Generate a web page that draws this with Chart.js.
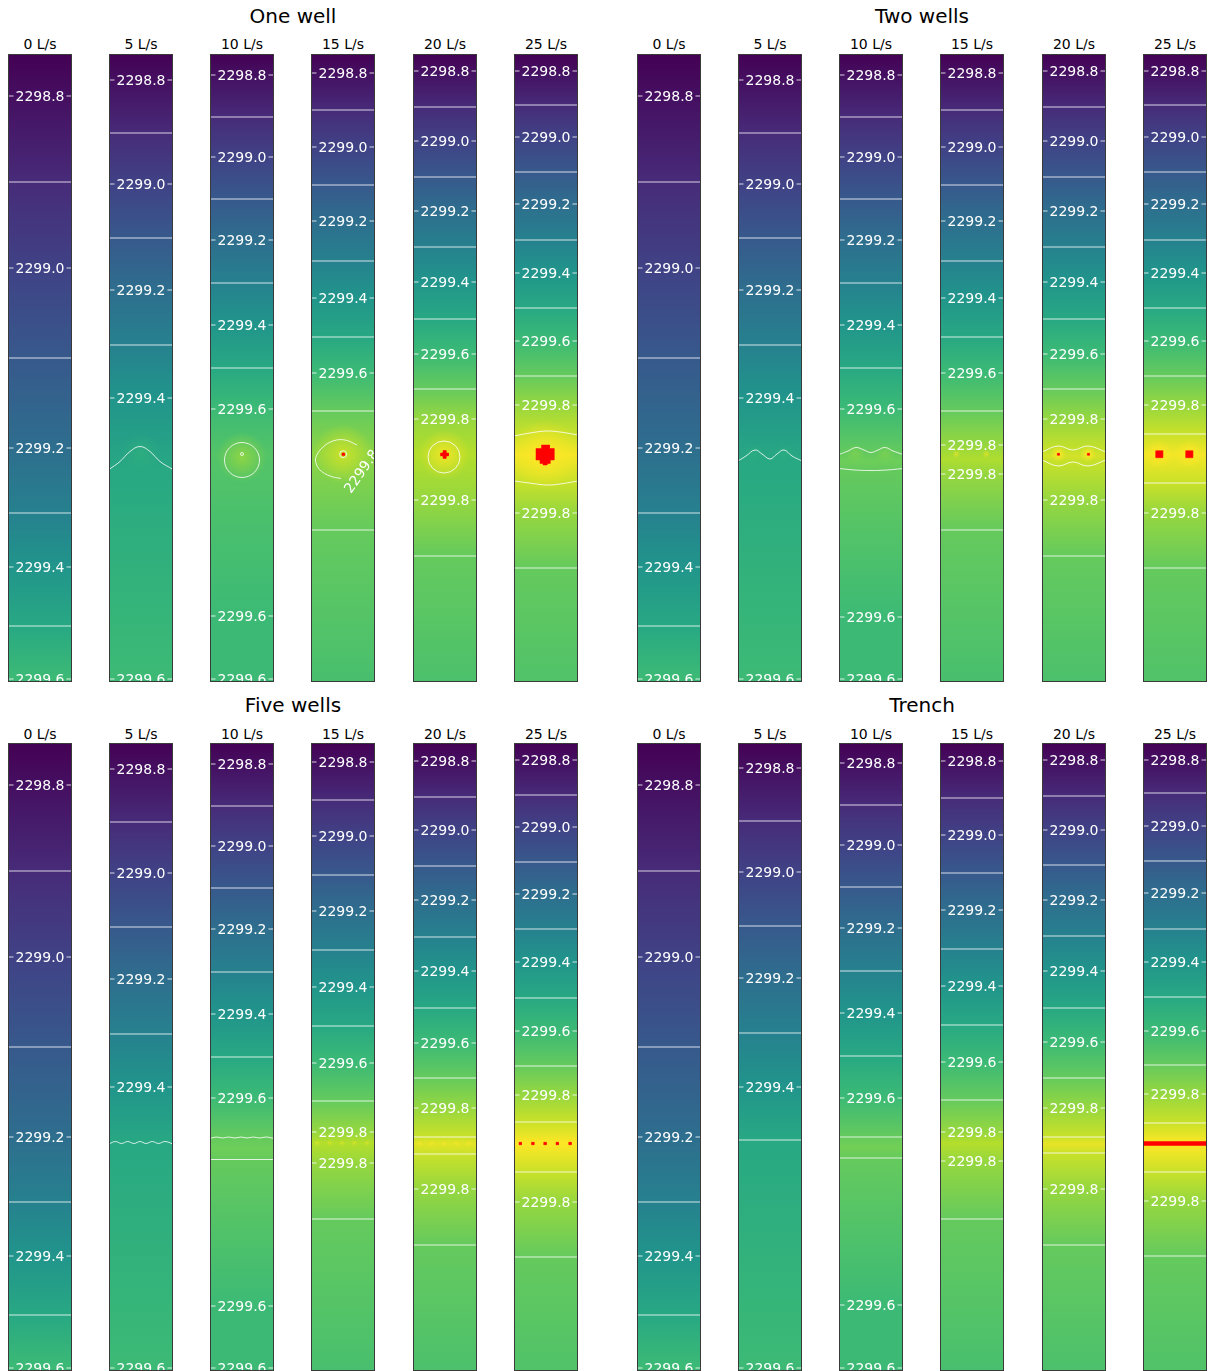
<!DOCTYPE html>
<html>
<head>
<meta charset="utf-8">
<script src="https://cdn.jsdelivr.net/npm/chart.js@4.4.1/dist/chart.umd.min.js"></script>
<style>
  body { margin: 0; background: #fff; font-family: "DejaVu Sans", sans-serif; }
  #fig { position: relative; width: 1208px; height: 1371px; overflow: hidden; }
  .panel { position: absolute; }
  .ttl { position: absolute; width: 100px; font-size: 14px; line-height: 16px; text-align: center; color: #000; white-space: nowrap; }
  .grp { position: absolute; width: 300px; font-size: 20px; line-height: 24px; text-align: center; color: #000; white-space: nowrap; }
</style>
</head>
<body>
<div id="fig"></div>
<script>
// --- data: water table (m) in a 128 m x 1256 m strip, y measured from the upstream edge ---
const groupTitles = ['One well', 'Two wells', 'Five wells', 'Trench'];
const rates = ['0 L/s', '5 L/s', '10 L/s', '15 L/s', '20 L/s', '25 L/s'];
const vMin = 2298.75, vMax = 2300.0;      // colour limits, above vMax = flooded (red)
const topHead = 2298.75;                  // upstream boundary
const bottomHead = [2299.6, 2299.6, 2299.6, 2299.63, 2299.64, 2299.65];

// straight contours [y, head]
const oneWellLines = [
  [[84,2298.8],[256,2298.9],[428,2299.0],[608,2299.1],[788,2299.2],[918,2299.3],[1026,2299.4],[1144,2299.5],[1250,2299.6]],
  [[52,2298.8],[158,2298.9],[260,2299.0],[368,2299.1],[472,2299.2],[582,2299.3],[688,2299.4],[1250,2299.6]],
  [[42,2298.8],[126,2298.9],[206,2299.0],[290,2299.1],[372,2299.2],[458,2299.3],[542,2299.4],[628,2299.5],[710,2299.6],[1124,2299.6],[1250,2299.6]],
  [[38,2298.8],[112,2298.9],[186,2299.0],[262,2299.1],[334,2299.2],[414,2299.3],[488,2299.4],[566,2299.5],[638,2299.6],[714,2299.7],[952,2299.7]],
  [[34,2298.8],[106,2298.9],[174,2299.0],[246,2299.1],[314,2299.2],[386,2299.3],[456,2299.4],[530,2299.5],[600,2299.6],[670,2299.7],[730,2299.8],[892,2299.8],[1004,2299.7]],
  [[34,2298.8],[102,2298.9],[166,2299.0],[236,2299.1],[300,2299.2],[372,2299.3],[438,2299.4],[508,2299.5],[574,2299.6],[644,2299.7],[702,2299.8],[918,2299.8],[1028,2299.7]]
];
const twoWellLines = [
  [[84,2298.8],[256,2298.9],[428,2299.0],[608,2299.1],[788,2299.2],[918,2299.3],[1026,2299.4],[1144,2299.5],[1250,2299.6]],
  [[52,2298.8],[158,2298.9],[260,2299.0],[368,2299.1],[472,2299.2],[582,2299.3],[688,2299.4],[1250,2299.6]],
  [[42,2298.8],[126,2298.9],[206,2299.0],[290,2299.1],[372,2299.2],[458,2299.3],[542,2299.4],[628,2299.5],[710,2299.6],[1126,2299.6],[1250,2299.6]],
  [[38,2298.8],[112,2298.9],[186,2299.0],[262,2299.1],[334,2299.2],[414,2299.3],[488,2299.4],[566,2299.5],[638,2299.6],[714,2299.7],[782,2299.8],[840,2299.8],[952,2299.7]],
  [[34,2298.8],[106,2298.9],[174,2299.0],[246,2299.1],[314,2299.2],[386,2299.3],[456,2299.4],[530,2299.5],[600,2299.6],[670,2299.7],[730,2299.8],[892,2299.8],[1004,2299.7]],
  [[34,2298.8],[102,2298.9],[166,2299.0],[236,2299.1],[300,2299.2],[372,2299.3],[438,2299.4],[508,2299.5],[574,2299.6],[644,2299.7],[702,2299.8],[760,2299.9],[858,2299.9],[918,2299.8],[1028,2299.7]]
];
const fiveWellLines = [
  [[84,2298.8],[256,2298.9],[428,2299.0],[608,2299.1],[788,2299.2],[918,2299.3],[1026,2299.4],[1144,2299.5],[1250,2299.6]],
  [[52,2298.8],[158,2298.9],[260,2299.0],[368,2299.1],[472,2299.2],[582,2299.3],[688,2299.4],[1250,2299.6]],
  [[42,2298.8],[126,2298.9],[206,2299.0],[290,2299.1],[372,2299.2],[458,2299.3],[542,2299.4],[628,2299.5],[710,2299.6],[833,2299.7],[1126,2299.6],[1250,2299.6]],
  [[38,2298.8],[114,2298.9],[186,2299.0],[264,2299.1],[336,2299.2],[414,2299.3],[488,2299.4],[566,2299.5],[640,2299.6],[716,2299.7],[778,2299.8],[840,2299.8],[952,2299.7]],
  [[36,2298.8],[108,2298.9],[174,2299.0],[246,2299.1],[314,2299.2],[388,2299.3],[456,2299.4],[530,2299.5],[600,2299.6],[670,2299.7],[730,2299.8],[788,2299.9],[822,2299.9],[892,2299.8],[1004,2299.7]],
  [[34,2298.8],[104,2298.9],[168,2299.0],[238,2299.1],[302,2299.2],[372,2299.3],[438,2299.4],[510,2299.5],[576,2299.6],[646,2299.7],[704,2299.8],[758,2299.9],[858,2299.9],[918,2299.8],[1028,2299.7]]
];
const trenchLines = [
  [[84,2298.8],[256,2298.9],[428,2299.0],[608,2299.1],[788,2299.2],[918,2299.3],[1026,2299.4],[1144,2299.5],[1250,2299.6]],
  [[50,2298.8],[156,2298.9],[258,2299.0],[366,2299.1],[470,2299.2],[580,2299.3],[688,2299.4],[794,2299.5],[1250,2299.6]],
  [[40,2298.8],[124,2298.9],[204,2299.0],[288,2299.1],[370,2299.2],[456,2299.3],[540,2299.4],[626,2299.5],[710,2299.6],[788,2299.7],[830,2299.7],[1124,2299.6],[1250,2299.6]],
  [[36,2298.8],[110,2298.9],[184,2299.0],[260,2299.1],[334,2299.2],[412,2299.3],[486,2299.4],[564,2299.5],[638,2299.6],[714,2299.7],[778,2299.8],[836,2299.8],[952,2299.7]],
  [[34,2298.8],[106,2298.9],[174,2299.0],[244,2299.1],[314,2299.2],[386,2299.3],[456,2299.4],[530,2299.5],[598,2299.6],[670,2299.7],[730,2299.8],[788,2299.9],[820,2299.9],[892,2299.8],[1004,2299.7]],
  [[34,2298.8],[100,2298.9],[166,2299.0],[236,2299.1],[300,2299.2],[372,2299.3],[438,2299.4],[508,2299.5],[576,2299.6],[644,2299.7],[702,2299.8],[760,2299.9],[858,2299.9],[916,2299.8],[1026,2299.7]]
];

// bent contours near the wells: [head, [[x, y], ...]]
const oneWellCurves = [[], [[2299.5, [[0,831],[22,815],[42,795],[62,785],[82,795],[102,815],[128,831]]]], [],
  [[2299.8, [[92,782],[68,772],[44,774],[22,788],[10,806],[10,818],[18,832],[38,844],[60,849]]]], [],
  [[2299.9, [[0,764],[38,757],[66,754],[92,756],[128,762]]], [2299.9, [[0,854],[38,859],[66,862],[92,860],[128,854]]]]];
const twoWellCurves = [[], [[2299.5, [[0,814],[16,804],[34,792],[48,800],[64,810],[78,800],[92,792],[108,804],[128,814]]]],
  [[2299.7, [[0,801],[18,794],[34,787],[50,792],[64,797],[78,792],[92,787],[108,794],[128,801]]], [2299.7, [[0,829],[32,832],[64,833],[96,832],[128,829]]]],
  [], [[2299.9, [[0,796],[32,784],[62,792],[92,784],[128,796]]], [2299.9, [[0,812],[32,824],[62,816],[92,824],[128,812]]]], []];
const fiveWellCurves = [[], [[2299.5, [[0,802],[12.6,797],[25,801],[37.4,797],[50,801],[62,797],[74,801],[86.6,797],[99,801],[112,797],[128,802]]]],
  [[2299.7, [[0,791],[12.6,788],[25,790],[37.4,788],[50,790],[62,788],[74,790],[86.6,788],[99,790],[112,788],[128,791]]]], [], [], []];
const trenchCurves = [[], [], [], [], [], []];

// small closed contours [x, y, radius]
const oneWellRings = [[], [], [[64,812,35],[64,800,3]], [[64.4,800.4,7]], [[62,806,32]], []];
// rotated contour labels [x, y, angle, head]
const oneWellTilted = [[], [], [], [[100,834,-55,2299.8]], [], []];

// heads on the centre line near the wells [y, head]
const oneWellExtra = [[], [[831,2299.5]], [[800,2299.66]], [[800,2299.78]], [[800,2299.86]], [[764,2299.9],[801,2299.98],[854,2299.9]]];
const twoWellExtra = [[], [[814,2299.5]], [[801,2299.7],[815,2299.72],[829,2299.7]], [[810,2299.85]], [[796,2299.9],[804,2299.92],[812,2299.9]], [[801,2299.98]]];
const fiveWellExtra = [[], [[801,2299.5]], [[790,2299.7],[812,2299.72]], [[800,2299.86]], [[801,2299.95]], [[801,2300.0]]];
const trenchExtra = [[], [], [[809,2299.73]], [[800,2299.86]], [[802,2299.96]], [[801,2300.02]]];

// local mounds around the wells [x, y, head, radius]
const oneWellMounds = [[], [[64,800,2299.53,40]], [[64,806,2299.78,50]], [[64,800,2299.9,60]], [[63,801,2299.97,50]], [[62,801,2300.0,70]]];
const twoWellMounds = [[], [[32.5,800,2299.52,20],[92.5,800,2299.52,20]], [[32.5,800,2299.74,20],[92.5,800,2299.74,20]],
  [[32.5,800,2299.93,8],[92.5,800,2299.93,8]], [[32.5,800,2300,16],[92.5,800,2300,16]], [[32.5,800,2300,28],[92.5,800,2300,28]]];
const fiveWellMounds = [[], [], [],
  [[12.6,800,2299.92,6],[37.4,800,2299.92,6],[62,800,2299.92,6],[86.6,800,2299.92,6],[112,800,2299.92,6]],
  [[12.6,801,2299.98,6],[37.4,801,2299.98,6],[62,801,2299.98,6],[86.6,801,2299.98,6],[112,801,2299.98,6]], []];
const trenchMounds = [[], [], [], [], [], []];

// flooded cells (head above vMax)
const oneWellFlood = [[], [], [], [box(62,798,67,803)],
  [[[60,793],[66,793],[66,798],[71,798],[71,804],[66,804],[66,809],[60,809],[60,804],[55,804],[55,798],[60,798]]],
  [[[55,782],[71,782],[71,789],[80,789],[80,812],[72,812],[72,819],[66,819],[66,822],[58,822],[58,819],[52,819],[52,812],[44,812],[44,789],[55,789]]]];
const twoWellFlood = [[], [], [], [], [box(30.6,798.6,34.6,802.6), box(90.6,798.6,94.6,802.6)],
  [box(25.4,793.4,39.4,807.4), box(85.4,793.4,99.4,807.4)]];
const fiveWellFlood = [[], [], [], [], [],
  [box(10,798.5,15,803.5), box(35,798.5,40,803.5), box(59.5,798.5,64.5,803.5), box(84,798.5,89,803.5), box(109.5,798.5,114.5,803.5)]];
const trenchFlood = [[], [], [], [], [], [box(0,797,128,805)]];

function box(x0, y0, x1, y1) { return [[x0,y0],[x1,y0],[x1,y1],[x0,y1]]; }

// --- layout ---
const xMax = 128, yMax = 1256;
const colLefts = [[8,109,210,311,413,514],[637,738,839,940,1042,1143]];
const rowTops = [54, 743];
const LINE = 'rgba(255,255,255,0.8)';

const groups = [
  { lines: oneWellLines, curves: oneWellCurves, rings: oneWellRings, tilted: oneWellTilted, extra: oneWellExtra, mounds: oneWellMounds, flood: oneWellFlood },
  { lines: twoWellLines, curves: twoWellCurves, rings: [[],[],[],[],[],[]], tilted: [[],[],[],[],[],[]], extra: twoWellExtra, mounds: twoWellMounds, flood: twoWellFlood },
  { lines: fiveWellLines, curves: fiveWellCurves, rings: [[],[],[],[],[],[]], tilted: [[],[],[],[],[],[]], extra: fiveWellExtra, mounds: fiveWellMounds, flood: fiveWellFlood },
  { lines: trenchLines, curves: trenchCurves, rings: [[],[],[],[],[],[]], tilted: [[],[],[],[],[],[]], extra: trenchExtra, mounds: trenchMounds, flood: trenchFlood }
];

const VIRIDIS = ['#440154','#482878','#3e4989','#31688e','#26828e','#1f9e89','#35b779','#6ece58','#b5de2b','#fde725']
  .map(h => [1, 3, 5].map(i => parseInt(h.slice(i, i + 2), 16)));
function viridis(head, a = 1) {
  let t = (head - vMin) / (vMax - vMin);
  t = Math.max(0, Math.min(1, t));
  const f = t * 9, i = Math.min(8, Math.floor(f)), u = f - i;
  const c = VIRIDIS[i].map((v, k) => Math.round(v + (VIRIDIS[i + 1][k] - v) * u));
  return `rgba(${c[0]},${c[1]},${c[2]},${a})`;
}

function paintField(chart, profile, mounds, rect) {
  const { ctx, chartArea: a, scales: { x, y } } = chart;
  ctx.save();
  ctx.beginPath();
  ctx.rect(rect.x, rect.y, rect.w, rect.h);
  ctx.clip();
  const g = ctx.createLinearGradient(0, y.getPixelForValue(0), 0, y.getPixelForValue(yMax));
  profile.forEach(([yy, h]) => g.addColorStop(Math.max(0, Math.min(1, yy / yMax)), viridis(h)));
  ctx.fillStyle = g;
  ctx.fillRect(a.left, a.top, a.right - a.left, a.bottom - a.top);
  mounds.forEach(([mx, my, h, r]) => {
    const cx = x.getPixelForValue(mx), cy = y.getPixelForValue(my);
    const rp = Math.abs(x.getPixelForValue(r) - x.getPixelForValue(0));
    const rg = ctx.createRadialGradient(cx, cy, 0, cx, cy, rp);
    rg.addColorStop(0, viridis(h, 1));
    rg.addColorStop(1, viridis(h, 0));
    ctx.fillStyle = rg;
    ctx.fillRect(cx - rp, cy - rp, 2 * rp, 2 * rp);
  });
  ctx.restore();
}

function makePanel(gi, k) {
  const grp = groups[gi];
  const row = gi >> 1, col = gi & 1;
  const left = colLefts[col][k], top = rowTops[row];
  const fig = document.getElementById('fig');

  const t = document.createElement('div');
  t.className = 'ttl';
  t.style.left = (left + 32 - 50) + 'px';
  t.style.top = (row ? 726 : 36) + 'px';
  t.textContent = rates[k];
  fig.appendChild(t);

  const cv = document.createElement('canvas');
  cv.className = 'panel';
  cv.width = 64; cv.height = 628;
  cv.style.left = left + 'px'; cv.style.top = top + 'px';
  cv.style.width = '64px'; cv.style.height = '628px';
  fig.appendChild(cv);

  const lines = grp.lines[k];
  const profile = [[0, topHead], ...lines, ...grp.extra[k], [yMax, bottomHead[k]]].sort((p, q) => p[0] - q[0]);
  const mounds = grp.mounds[k];

  const datasets = [];
  grp.flood[k].forEach(poly => datasets.push({
    data: poly.concat([poly[0]]).map(([x, y]) => ({ x, y })),
    showLine: true, fill: 'shape', backgroundColor: '#ff0000', borderColor: '#ff0000',
    borderWidth: 0.5, pointRadius: 0, order: 0
  }));
  lines.forEach(([y]) => datasets.push({
    data: [{ x: 0, y }, { x: xMax, y }],
    showLine: true, borderColor: LINE, borderWidth: 1, pointRadius: 0, order: 1
  }));
  grp.curves[k].forEach(([, pts]) => datasets.push({
    data: pts.map(([x, y]) => ({ x, y })),
    showLine: true, tension: 0.4, borderColor: LINE, borderWidth: 1, pointRadius: 0, order: 1
  }));
  if (grp.rings[k].length) datasets.push({
    data: grp.rings[k].map(([x, y, r]) => ({ x, y, r })),
    pointStyle: 'circle', pointBackgroundColor: 'rgba(0,0,0,0)', pointBorderColor: LINE, pointBorderWidth: 1,
    pointRadius: c => {
      const s = c.chart.scales.x;
      return s && c.raw ? Math.abs(s.getPixelForValue(c.raw.r) - s.getPixelForValue(0)) : 0;
    },
    order: 1
  });

  const fieldPlugin = {
    id: 'field',
    beforeDatasetsDraw(chart) {
      const a = chart.chartArea;
      paintField(chart, profile, mounds, { x: a.left, y: a.top, w: a.right - a.left, h: a.bottom - a.top });
    },
    afterDatasetsDraw(chart) {
      const { ctx, chartArea: a, scales: { x, y } } = chart;
      ctx.save();
      ctx.beginPath();
      ctx.rect(a.left, a.top, a.right - a.left, a.bottom - a.top);
      ctx.clip();
      ctx.font = '14px "DejaVu Sans"';
      ctx.fillStyle = '#ffffff';
      ctx.textAlign = 'center';
      ctx.textBaseline = 'alphabetic';
      const cx = (a.left + a.right) / 2;
      lines.forEach(([yy, h]) => {
        if (Math.round(h * 10) % 2 !== 0) return;
        const txt = h.toFixed(1);
        const w = ctx.measureText(txt).width;
        const py = y.getPixelForValue(yy);
        paintField(chart, profile, mounds, { x: cx - w / 2 - 2, y: py - 3, w: w + 4, h: 6 });
        ctx.fillText(txt, cx, py + 5);
      });
      grp.tilted[k].forEach(([tx, ty, ang, h]) => {
        ctx.save();
        ctx.translate(x.getPixelForValue(tx), y.getPixelForValue(ty));
        ctx.rotate(ang * Math.PI / 180);
        ctx.fillText(h.toFixed(1), 0, 5);
        ctx.restore();
      });
      ctx.restore();
    },
    afterDraw(chart) {
      const { ctx, chartArea: a } = chart;
      ctx.save();
      ctx.strokeStyle = '#3a3a3a';
      ctx.lineWidth = 1;
      ctx.strokeRect(a.left + 0.5, a.top + 0.5, a.right - a.left - 1, a.bottom - a.top - 1);
      ctx.restore();
    }
  };

  new Chart(cv, {
    type: 'scatter',
    data: { datasets },
    options: {
      responsive: false,
      animation: false,
      devicePixelRatio: 1,
      events: [],
      layout: { padding: 0 },
      plugins: { legend: { display: false }, tooltip: { enabled: false }, title: { display: false } },
      scales: {
        x: { type: 'linear', min: 0, max: xMax, display: false },
        y: { type: 'linear', min: 0, max: yMax, reverse: true, display: false }
      }
    },
    plugins: [fieldPlugin]
  });
}

groupTitles.forEach((title, gi) => {
  const row = gi >> 1, col = gi & 1;
  const d = document.createElement('div');
  d.className = 'grp';
  const lefts = colLefts[col];
  d.style.left = ((lefts[0] + lefts[5] + 64) / 2 - 150) + 'px';
  d.style.top = (row ? 693 : 4) + 'px';
  d.textContent = title;
  document.getElementById('fig').appendChild(d);
  rates.forEach((r, k) => makePanel(gi, k));
});
</script>
</body>
</html>
